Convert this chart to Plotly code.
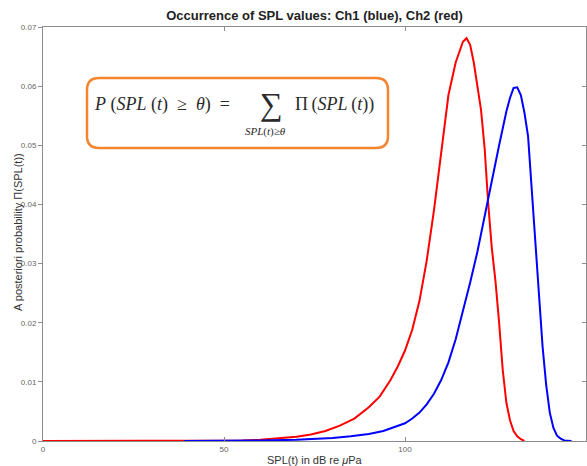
import plotly.graph_objects as go

# SPL grid (dB re uPa) and a-posteriori probabilities for each channel
ch2_spl = [0, 50, 55, 60, 65, 70, 74, 78, 82, 86, 90, 93, 96, 98, 100, 102, 104,
           106, 108, 110, 112, 114, 116, 117, 118, 119, 120, 121, 122, 123, 124,
           125, 126, 127, 128, 129, 130, 131, 132, 133]
ch2_prob = [0, 0, 0.0001, 0.0002, 0.0004, 0.0007, 0.0011, 0.0017, 0.0026, 0.0038,
            0.0057, 0.0075, 0.0103, 0.0126, 0.0153, 0.0188, 0.0237, 0.0305, 0.0390,
            0.0490, 0.0585, 0.0640, 0.0675, 0.0681, 0.0670, 0.0640, 0.0600, 0.0560,
            0.0495, 0.0400, 0.0325, 0.0270, 0.0200, 0.0120, 0.0065, 0.0035, 0.0017,
            0.0008, 0.0003, 0]

ch1_spl = [39, 50, 60, 70, 75, 80, 85, 90, 94, 97, 100, 102, 104, 106, 108, 110,
           112, 114, 116, 118, 120, 122, 124, 126, 128, 129, 130, 131, 132, 133,
           134, 135, 136, 137, 138, 139, 140, 141, 142, 143, 144, 146]
ch1_prob = [0, 0, 0.0001, 0.0002, 0.0003, 0.0005, 0.0008, 0.0012, 0.0017, 0.0023,
            0.0030, 0.0038, 0.0048, 0.0062, 0.0080, 0.0103, 0.0133, 0.0172, 0.0218,
            0.0268, 0.0320, 0.0382, 0.0442, 0.0500, 0.0557, 0.0580, 0.0597, 0.0598,
            0.0585, 0.0555, 0.0515, 0.0430, 0.0340, 0.0245, 0.0160, 0.0095, 0.0048,
            0.0022, 0.0009, 0.0004, 0.0001, 0]

x_ticks = [0, 50, 100, 150]
y_ticks = [0, 0.01, 0.02, 0.03, 0.04, 0.05, 0.06, 0.07]

W, H = 587, 466
ML, MR, MT, MB = 43, 1, 27, 25
PW, PH = W - ML - MR, H - MT - MB


def px(x):
    return (x - ML) / PW


def py(y):
    return (H - MB - y) / PH


fig = go.Figure()
fig.add_trace(go.Scatter(x=ch2_spl, y=ch2_prob, mode="lines",
                         line=dict(color="#ff0000", width=2), showlegend=False))
fig.add_trace(go.Scatter(x=ch1_spl, y=ch1_prob, mode="lines",
                         line=dict(color="#0000ff", width=2), showlegend=False))
# invisible trace to carry the right-hand mirror axis
fig.add_trace(go.Scatter(x=[0], y=[0], yaxis="y2", mode="lines",
                         line=dict(width=0), showlegend=False, hoverinfo="skip"))

axis_col = "#8c8c8c"
tick_font = dict(family="Liberation Sans, Arial, sans-serif", size=8, color="#666666")

fig.update_layout(
    width=W, height=H,
    margin=dict(l=ML, r=MR, t=MT, b=MB),
    paper_bgcolor="white", plot_bgcolor="white",
    title=dict(text="<b>Occurrence of SPL values: Ch1 (blue), Ch2 (red)</b>",
               x=px(314.5), xref="paper", xanchor="center",
               y=1 - 15 / H, yanchor="middle",
               font=dict(family="Liberation Sans, Arial, sans-serif", size=13, color="#222222")),
    xaxis=dict(range=[0, 150], tickvals=x_ticks, ticktext=[str(v) for v in x_ticks],
               showgrid=False, zeroline=False, showline=True, linecolor=axis_col,
               linewidth=1, mirror="ticks", ticks="inside", ticklen=4,
               tickcolor=axis_col, tickfont=tick_font, ticklabelstandoff=0),
    yaxis=dict(range=[0, 0.07], tickvals=y_ticks,
               ticktext=["0", "0.01", "0.02", "0.03", "0.04", "0.05", "0.06", "0.07"],
               showgrid=False, zeroline=False, showline=True, linecolor=axis_col,
               linewidth=1, mirror=True, ticks="outside", ticklen=4,
               tickcolor=axis_col, tickfont=tick_font),
    yaxis2=dict(range=[0, 0.07], tickvals=y_ticks, overlaying="y", side="right",
                showgrid=False, zeroline=False, showline=False, showticklabels=False,
                ticks="inside", ticklen=4, tickcolor=axis_col),
)

label_font = dict(family="Liberation Sans, Arial, sans-serif", size=11, color="#333333")
annotations = [
    dict(text="SPL(t) in dB re <i>μ</i>Pa", x=px(314.5), y=py(460),
         xanchor="center", yanchor="middle", font=label_font),
    dict(text="A posteriori probability Π(SPL(t))", x=px(18), y=py(232),
         xanchor="center", yanchor="middle", textangle=-90, font=label_font),
]

serif = "Liberation Serif, DejaVu Serif, serif"
math_col = "#2a2a2a"
sp = "\u2002"
annotations += [
    dict(text=f"<i>P</i> (<i>SPL</i> (<i>t</i>){sp}≥{sp}<i>θ</i>){sp}=",
         x=px(92), y=py(105), xanchor="left", yanchor="middle",
         font=dict(family=serif, size=18, color=math_col)),
    dict(text="∑", x=px(271), y=py(104), xanchor="center", yanchor="middle",
         font=dict(family=serif, size=32, color=math_col)),
    dict(text="<i>SPL</i>(<i>t</i>)≥<i>θ</i>", x=px(265), y=py(131),
         xanchor="center", yanchor="middle",
         font=dict(family=serif, size=11, color=math_col)),
    dict(text="Π\u2009(<i>SPL</i>\u2009(<i>t</i>))", x=px(293), y=py(105),
         xanchor="left", yanchor="middle",
         font=dict(family=serif, size=18, color=math_col)),
]
for a in annotations:
    a.update(xref="paper", yref="paper", showarrow=False)
fig.update_layout(annotations=annotations)

# rounded frame around the formula
L, R, T, B, r = 87, 388, 78, 148, 12
path = (f"M {px(L + r)} {py(T)} L {px(R - r)} {py(T)} "
        f"Q {px(R)} {py(T)} {px(R)} {py(T + r)} L {px(R)} {py(B - r)} "
        f"Q {px(R)} {py(B)} {px(R - r)} {py(B)} L {px(L + r)} {py(B)} "
        f"Q {px(L)} {py(B)} {px(L)} {py(B - r)} L {px(L)} {py(T + r)} "
        f"Q {px(L)} {py(T)} {px(L + r)} {py(T)} Z")
fig.add_shape(type="path", path=path, xref="paper", yref="paper",
              line=dict(color="#f5842f", width=2.5), fillcolor="rgba(0,0,0,0)")

fig.write_html("out.html")
